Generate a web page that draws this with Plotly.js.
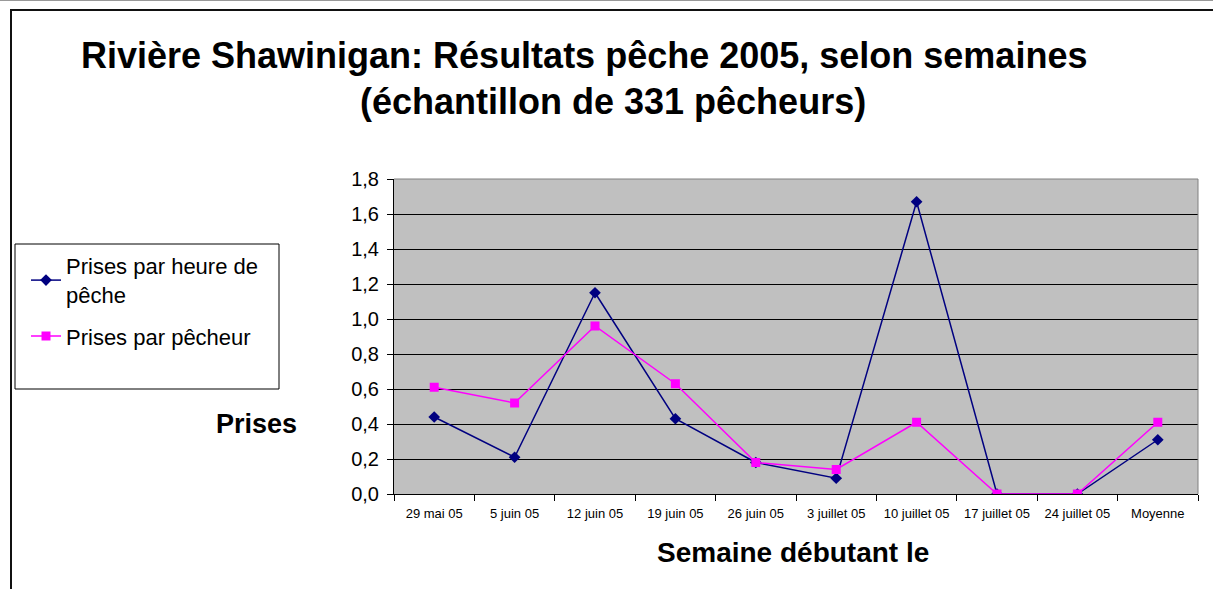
<!DOCTYPE html>
<html>
<head>
<meta charset="utf-8">
<script src="https://cdn.plot.ly/plotly-3.0.1.min.js"></script>
<style>
html,body{margin:0;padding:0;background:#fff;}
#chart{width:1213px;height:589px;}
</style>
</head>
<body>
<div id="chart"></div>
<script>
const weeks = ["29 mai 05","5 juin 05","12 juin 05","19 juin 05","26 juin 05","3 juillet 05","10 juillet 05","17 juillet 05","24 juillet 05","Moyenne"];
const prisesParHeure = [0.44, 0.21, 1.15, 0.43, 0.18, 0.09, 1.67, 0, 0, 0.31];
const prisesParPecheur = [0.61, 0.52, 0.96, 0.63, 0.18, 0.14, 0.41, 0, 0, 0.41];
const seriesNames = ["Prises par heure de<br>pêche", "Prises par pêcheur"];
const titleLine1 = "Rivière Shawinigan: Résultats pêche 2005, selon semaines";
const titleLine2 = "(échantillon de 331 pêcheurs)";
const xTitle = "Semaine débutant le";
const yTitle = "Prises";

const FONT = "Liberation Sans, Arial, sans-serif";
// plot area in pixels
const L = 394, R = 1198, T = 179, B = 494, W = 1213, H = 589;
const px = x => (x - L) / (R - L);
const py = y => (B - y) / (B - T);

const traces = [
  {
    x: weeks, y: prisesParHeure, name: seriesNames[0], legendgroup: "a", type: "scatter", mode: "lines+markers",
    line: {color: "#000080", width: 1.5},
    marker: {symbol: "diamond", size: 9, color: "#000080"}
  },
  {
    x: weeks, y: prisesParPecheur, name: seriesNames[1], legendgroup: "b", type: "scatter", mode: "lines+markers",
    line: {color: "#FF00FF", width: 1.5},
    marker: {symbol: "square", size: 9, color: "#FF00FF"}
  }
];

const layout = {
  width: W, height: H,
  margin: {l: L, r: W - R, t: T, b: H - B, pad: 0},
  paper_bgcolor: "#ffffff",
  plot_bgcolor: "#C0C0C0",
  separators: ",.",
  font: {family: FONT, color: "#000"},
  showlegend: true,
  legend: {
    x: px(26), y: py(245), xanchor: "left", yanchor: "top",
    bgcolor: "rgba(0,0,0,0)", borderwidth: 0,
    font: {family: FONT, size: 22, color: "#000"},
    traceorder: "grouped", tracegroupgap: 10
  },
  xaxis: {
    type: "category", range: [-0.5, 9.5],
    showgrid: false, zeroline: false,
    showline: true, linecolor: "#000", linewidth: 1,
    ticks: "outside", tickson: "boundaries", ticklen: 6, tickcolor: "#000", tickwidth: 1,
    tickfont: {family: FONT, size: 13, color: "#000"},
    ticklabelstandoff: 7,
    tickangle: 0
  },
  yaxis: {
    range: [0, 1.8], dtick: 0.2, tick0: 0, tickformat: ".1f",
    showgrid: true, gridcolor: "#000", gridwidth: 1,
    zeroline: false,
    showline: true, linecolor: "#000", linewidth: 1,
    ticks: "outside", ticklen: 6, tickcolor: "#000", tickwidth: 1,
    tickfont: {family: FONT, size: 20, color: "#000"},
    ticklabelstandoff: 4
  },
  shapes: [
    // faint top line
    {type: "line", xref: "paper", yref: "paper", x0: px(0), x1: px(1213), y0: py(0.5), y1: py(0.5),
     line: {color: "#999", width: 1}},
    // outer chart frame
    {type: "rect", xref: "paper", yref: "paper", x0: px(11), x1: px(1225), y0: py(600), y1: py(10),
     line: {color: "#111", width: 2}, fillcolor: "rgba(0,0,0,0)"},
    // legend box
    {type: "rect", xref: "paper", yref: "paper", x0: px(15), x1: px(279), y0: py(389), y1: py(244),
     line: {color: "#000", width: 1}, fillcolor: "rgba(0,0,0,0)"},
    // plot area top and right border (gray)
    {type: "line", xref: "paper", yref: "paper", x0: 0, x1: 1, y0: 1, y1: 1, line: {color: "#808080", width: 1}},
    {type: "line", xref: "paper", yref: "paper", x0: 1, x1: 1, y0: 0, y1: 1, line: {color: "#808080", width: 1}}
  ],
  annotations: [
    {text: "<b>" + titleLine1 + "</b>", xref: "paper", yref: "paper", x: px(584), y: py(55),
     xanchor: "center", yanchor: "middle", showarrow: false, font: {family: FONT, size: 36, color: "#000"}},
    {text: "<b>" + titleLine2 + "</b>", xref: "paper", yref: "paper", x: px(613), y: py(101),
     xanchor: "center", yanchor: "middle", showarrow: false, font: {family: FONT, size: 36, color: "#000"}},
    {text: "<b>" + xTitle + "</b>", xref: "paper", yref: "paper", x: px(793), y: py(552),
     xanchor: "center", yanchor: "middle", showarrow: false, font: {family: FONT, size: 28, color: "#000"}},
    {text: "<b>" + yTitle + "</b>", xref: "paper", yref: "paper", x: px(256), y: py(424),
     xanchor: "center", yanchor: "middle", showarrow: false, font: {family: FONT, size: 27, color: "#000"}}
  ]
};

Plotly.newPlot("chart", traces, layout, {displayModeBar: false, staticPlot: true});
</script>
</body>
</html>
